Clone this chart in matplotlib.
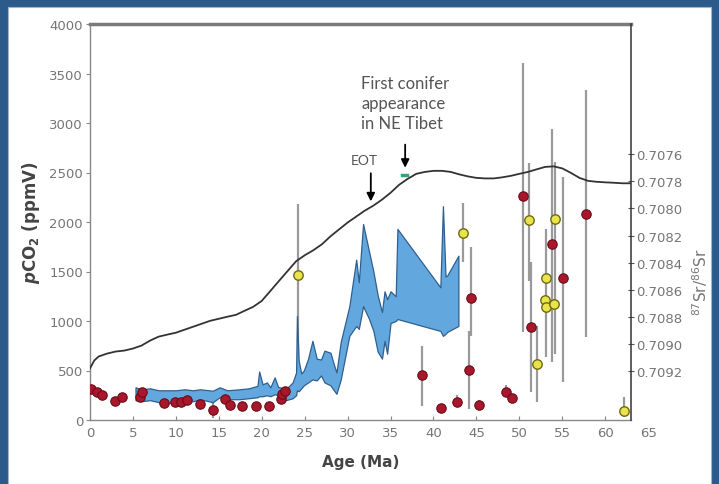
import numpy as np
import matplotlib.pyplot as plt
from matplotlib.patches import Rectangle

# pCO2 proxy band (Ma, lower, upper ppmV)
band_age = [5.3, 6.0, 7.0, 8.0, 9.0, 10.0, 11.0, 12.0, 12.8, 14.3, 15.1, 16.0,
            17.4, 18.5, 19.5, 19.7, 20.1, 20.6, 21.0, 21.5, 21.9, 22.8, 23.6,
            24.0, 24.1, 24.3, 24.6, 24.9, 25.4, 25.9, 26.4, 26.9, 27.3, 28.0,
            28.4, 28.7, 29.2, 30.2, 31.0, 31.3, 31.8, 32.5, 33.0, 33.5, 34.0,
            34.3, 34.6, 35.0, 35.6, 35.8, 40.8, 41.1, 41.4, 41.6, 42.9]
band_lo = [200, 190, 200, 180, 170, 180, 190, 190, 210, 180, 230, 210,
           210, 220, 230, 240, 240, 250, 240, 260, 250, 200, 220,
           250, 300, 290, 320, 350, 380, 410, 400, 450, 380, 350,
           300, 265, 410, 850, 950, 920, 1150, 1020, 900, 690, 620,
           800, 670, 980, 1000, 1020, 900, 850, 870, 890, 950]
band_hi = [330, 310, 320, 300, 300, 300, 310, 300, 310, 296, 330, 300,
           310, 320, 345, 490, 360, 380, 330, 430, 335, 310, 380,
           480, 1050, 600, 470, 500, 620, 800, 620, 610, 700, 680,
           560, 480, 790, 1150, 1620, 1390, 1980, 1700, 1500, 1260, 1090,
           1300, 1220, 1300, 1250, 1930, 1340, 2160, 1450, 1460, 1660]

# red symbols: pCO2 estimates with uncertainty (nan = no bar)
red_age = [0.1, 0.8, 1.4, 2.9, 3.75, 5.8, 6.0, 8.6, 9.9, 10.6, 11.3, 12.8,
           14.3, 15.7, 16.3, 17.7, 19.3, 20.9, 22.2, 22.4, 22.7, 38.7, 40.9,
           42.7, 44.1, 44.4, 45.3, 48.5, 49.1, 50.4, 51.3, 53.8, 55.1, 57.8]
red_co2 = [313, 280, 253, 195, 229, 229, 280, 172, 179, 185, 205, 158,
           100, 212, 152, 145, 145, 145, 212, 263, 296, 458, 121,
           179, 505, 1229, 155, 286, 219, 2266, 943, 1778, 1434, 2081]
red_lo = [np.nan] * 12 + [20] + [np.nan] * 8 + [145, 90,
          140, 110, 850, 110, 230, 180, 889, 280, 590, 384, 838]
red_hi = [np.nan] * 12 + [170] + [np.nan] * 8 + [751, 150,
          250, 900, 1750, 200, 350, 260, 3606, 1600, 2940, 2455, 3336]

# yellow symbols
yel_age = [24.2, 43.4, 51.1, 52.1, 53.1, 53.0, 53.1, 54.0, 54.1, 62.2]
yel_co2 = [1465, 1889, 2020, 566, 1431, 1215, 1138, 1172, 2030, 94]
yel_lo = [500, 1596, 1400, 180, 640, np.nan, np.nan, np.nan, 670, 30]
yel_hi = [2180, 2192, 2600, 953, 1930, np.nan, np.nan, np.nan, 2610, 230]

# seawater 87Sr/86Sr curve
sr_age = [0, 0.5, 1, 2, 3, 4, 5, 6, 7, 8, 9, 10, 11, 12, 13, 14, 15, 16, 17,
          18, 19, 20, 21, 22, 23, 24, 25, 26, 27, 28, 29, 30, 31, 32, 33, 34,
          35, 36, 37, 38, 39, 40, 41, 42, 43, 44, 45, 46, 47, 48, 49, 50, 51,
          52, 53, 54, 55, 56, 57, 58, 59, 60, 61, 62, 63]
sr_val = [0.709182, 0.709123, 0.709094, 0.709072, 0.709057, 0.709050,
          0.709035, 0.709013, 0.708976, 0.708947, 0.708932, 0.708918,
          0.708896, 0.708874, 0.708852, 0.708830, 0.708815, 0.708800,
          0.708786, 0.708756, 0.708727, 0.708683, 0.708610, 0.708536,
          0.708463, 0.708390, 0.708346, 0.708309, 0.708265, 0.708206,
          0.708155, 0.708104, 0.708060, 0.708016, 0.707979, 0.707935,
          0.707884, 0.707825, 0.707781, 0.707744, 0.707730, 0.707722,
          0.707722, 0.707730, 0.707748, 0.707763, 0.707774, 0.707778,
          0.707778, 0.707770, 0.707759, 0.707744, 0.707730, 0.707711,
          0.707693, 0.707689, 0.707704, 0.707737, 0.707774, 0.707796,
          0.707803, 0.707807, 0.707810, 0.707814, 0.707814]

sr_ticks = [0.7076, 0.7078, 0.7080, 0.7082, 0.7084, 0.7086, 0.7088, 0.7090, 0.7092]

tick_font = dict(family='DejaVu Sans', size=9.5, color='#757575')
label_font = dict(family='DejaVu Sans', weight='bold', color='#444444')

fig = plt.figure(figsize=(7.19, 4.85), dpi=100)
fig.patch.set_facecolor('#2c5a8b')
fig.patches.append(Rectangle((8 / 719, 0), 703 / 719, 477 / 485,
                             transform=fig.transFigure, facecolor='white',
                             edgecolor='#9fb6cf', lw=0.8, zorder=-5))

ax = fig.add_axes([90 / 719, 64 / 485, 541 / 719, 396 / 485])
ax.patch.set_alpha(0)
ax.set_xlim(0, 63)
ax.set_ylim(0, 4000)

# uncertainty bars
ax.vlines(red_age, red_lo, red_hi, color='#9a9a9a', lw=1.6, zorder=1)
ax.vlines(yel_age, yel_lo, yel_hi, color='#9a9a9a', lw=1.6, zorder=1)

ax.fill_between(band_age, band_lo, band_hi, facecolor='#62a8de',
                edgecolor='#2f5f8f', lw=0.9, zorder=2)

ax.scatter(red_age, red_co2, s=46, c='#a8172b', edgecolors='#6a0d18',
           linewidths=0.8, zorder=4)
ax.scatter(yel_age, yel_co2, s=46, c='#e9e34c', edgecolors='#6e6a10',
           linewidths=1.0, zorder=4)

# annotations
ax.annotate('', xy=(32.7, 2180), xytext=(32.7, 2520),
            arrowprops=dict(arrowstyle='-|>', color='black', lw=1.3,
                            mutation_scale=12), zorder=5)
ax.annotate('', xy=(36.7, 2520), xytext=(36.7, 2810),
            arrowprops=dict(arrowstyle='-|>', color='black', lw=1.3,
                            mutation_scale=12), zorder=5)
ax.plot([36.3, 36.9], [2470, 2470], color='#3aa07a', lw=2.5, zorder=5)
ax.text(32.0, 2630, 'EOT', ha='center', va='center', family='Lato',
        size=10, color='#555555')
ax.text(31.6, 3200, 'First conifer\nappearance\nin NE Tibet', ha='left',
        va='center', family='Lato', size=12, color='#555555',
        linespacing=1.3)

ax.set_xticks(range(0, 61, 5))
ax.set_yticks(range(0, 4001, 500))
ax.tick_params(axis='x', direction='in', length=3, color='#888888', pad=4)
ax.tick_params(axis='y', direction='out', length=3, color='#888888', pad=2)
for lab in ax.get_xticklabels() + ax.get_yticklabels():
    lab.set(**tick_font)
ax.annotate('65', xy=(65, 0), xycoords=('data', 'axes fraction'),
            xytext=(0, -4), textcoords='offset points', ha='center', va='top',
            annotation_clip=False, **tick_font)

ax.set_xlabel('Age (Ma)', labelpad=11, size=11, **label_font)
ax.set_ylabel(r'$\boldsymbol{p}$CO$_\mathbf{2}$ (ppmV)', labelpad=5, size=12,
              **label_font)

for side in ['left', 'bottom']:
    ax.spines[side].set_color('#888888')
    ax.spines[side].set_linewidth(1.0)
ax.spines['top'].set_color('#7a7a7a')
ax.spines['top'].set_linewidth(2.5)
ax.spines['right'].set_visible(False)

# right axis for the Sr isotope curve (inverted)
ax2 = ax.twinx()
ax2.set_ylim(0.709563, 0.706637)
ax2.plot(sr_age, sr_val, color='#333333', lw=1.3)
ax2.set_yticks(sr_ticks)
ax2.set_yticklabels(['%.4f' % t for t in sr_ticks])
ax2.tick_params(axis='y', direction='inout', length=4, color='#555555', pad=2)
for lab in ax2.get_yticklabels():
    lab.set(**tick_font)
for side in ['left', 'top', 'bottom']:
    ax2.spines[side].set_visible(False)
ax2.spines['right'].set_color('#333333')
ax2.spines['right'].set_linewidth(1.1)
ax2.text(1.128, 0.35, r'$^{87}$Sr/$^{86}$Sr', transform=ax2.transAxes,
         rotation=90, ha='center', va='center', family='DejaVu Sans',
         size=11, color='#777777')

fig.savefig('out.png', dpi=100, facecolor=fig.get_facecolor())
